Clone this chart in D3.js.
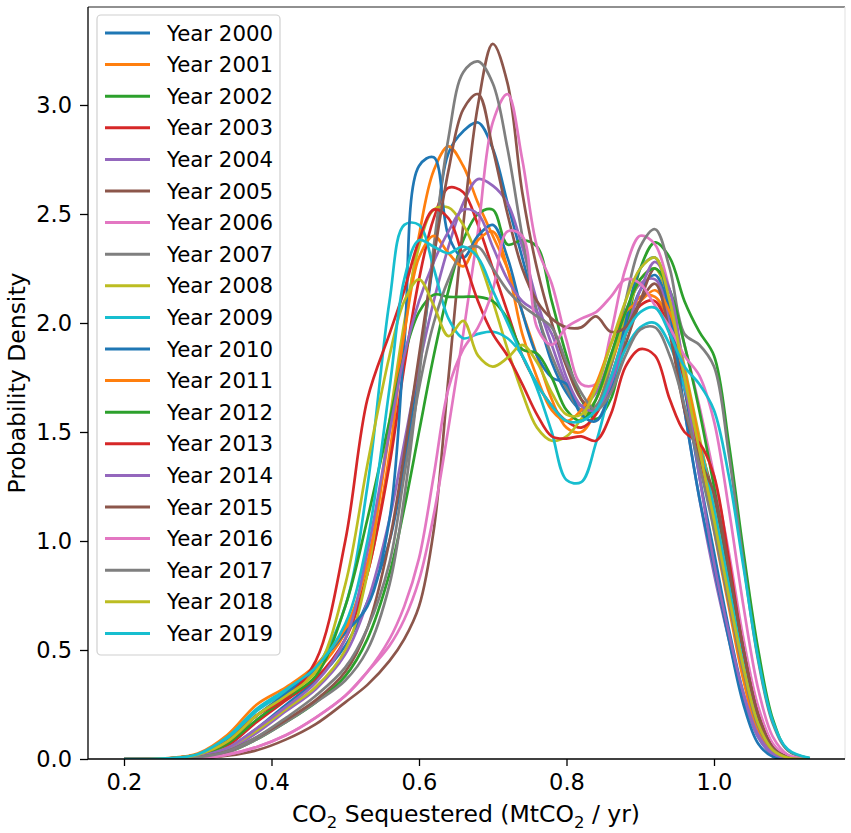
<!DOCTYPE html>
<html>
<head>
<meta charset="utf-8">
<script src="https://cdn.jsdelivr.net/npm/d3@7"></script>
<style>
  body { margin: 0; background: #fff; }
  svg { font-family: "DejaVu Sans", sans-serif; }
</style>
</head>
<body>
<script>
var xGrid = [0.20,0.26,0.30,0.34,0.38,0.42,0.46,0.50,0.53,0.56,0.58,0.60,0.62,0.64,0.66,0.68,0.70,0.72,0.74,0.76,
             0.78,0.80,0.82,0.84,0.86,0.88,0.90,0.92,0.94,0.96,0.98,1.00,1.02,1.04,1.06,1.08,1.10,1.13];

var years = [2000,2001,2002,2003,2004,2005,2006,2007,2008,2009,2010,2011,2012,2013,2014,2015,2016,2017,2018,2019];

var y2000 = [0,0.002,0.01,0.05,0.14,0.25,0.36,0.52,0.72,1.0,1.35,1.8,2.3,2.78,2.88,2.92,2.80,2.55,2.30,2.05,1.82,1.68,1.60,1.60,1.72,1.95,2.15,2.22,2.05,1.70,1.30,0.95,0.60,0.30,0.10,0.02,0.003,0];
var y2001 = [0,0.003,0.02,0.08,0.20,0.30,0.40,0.58,0.85,1.40,1.95,2.40,2.70,2.81,2.72,2.55,2.40,2.25,2.05,1.85,1.65,1.52,1.50,1.60,1.80,2.00,2.12,2.12,2.00,1.75,1.45,1.10,0.72,0.38,0.14,0.03,0.005,0];
var y2002 = [0,0,0.005,0.03,0.09,0.17,0.26,0.38,0.55,0.85,1.15,1.50,1.85,2.15,2.38,2.50,2.52,2.36,2.38,2.35,2.10,1.85,1.65,1.56,1.65,1.95,2.25,2.37,2.30,2.10,1.96,1.85,1.45,0.95,0.50,0.18,0.04,0.003];
var y2003 = [0,0.002,0.015,0.06,0.17,0.27,0.37,0.55,0.85,1.35,1.80,2.20,2.48,2.62,2.60,2.45,2.25,2.05,1.85,1.72,1.62,1.55,1.52,1.58,1.75,1.95,2.08,2.10,1.95,1.70,1.40,1.08,0.72,0.40,0.16,0.04,0.006,0];
var y2004 = [0,0.001,0.01,0.04,0.12,0.22,0.32,0.48,0.72,1.10,1.45,1.80,2.10,2.35,2.55,2.66,2.63,2.55,2.35,2.10,1.90,1.72,1.62,1.68,1.85,2.05,2.18,2.20,2.00,1.60,1.20,0.85,0.55,0.28,0.10,0.02,0.003,0];
var y2005 = [0,0,0.002,0.015,0.04,0.09,0.16,0.26,0.34,0.45,0.55,0.70,1.05,1.75,2.45,3.00,3.28,3.10,2.60,2.25,2.00,1.80,1.65,1.60,1.70,1.90,2.10,2.25,2.10,1.75,1.45,1.20,0.85,0.48,0.20,0.06,0.01,0];
var y2006 = [0,0,0.003,0.02,0.055,0.11,0.19,0.29,0.40,0.52,0.64,0.82,1.12,1.52,1.95,2.42,2.92,3.05,2.75,2.35,2.18,1.92,1.72,1.72,1.95,2.25,2.40,2.36,2.15,1.90,1.62,1.30,0.95,0.55,0.24,0.07,0.012,0];
var y2007 = [0,0.001,0.006,0.03,0.09,0.17,0.26,0.36,0.50,0.80,1.20,1.75,2.35,2.85,3.15,3.20,3.10,2.80,2.40,2.05,1.85,1.70,1.60,1.62,1.80,2.10,2.35,2.43,2.25,1.95,1.90,1.80,1.40,0.90,0.45,0.16,0.04,0.003];
var y2008 = [0,0.002,0.012,0.05,0.13,0.23,0.33,0.50,0.85,1.55,2.00,2.35,2.52,2.53,2.45,2.30,2.10,1.88,1.68,1.52,1.46,1.48,1.56,1.65,1.82,2.02,2.20,2.25,2.10,1.80,1.48,1.15,0.78,0.42,0.16,0.04,0.006,0];
var y2009 = [0,0.003,0.02,0.09,0.22,0.31,0.42,0.70,1.25,2.10,2.45,2.45,2.25,2.02,1.93,1.95,1.96,1.93,1.85,1.70,1.50,1.28,1.27,1.45,1.70,1.88,1.98,2.00,1.90,1.70,1.45,1.15,0.80,0.45,0.18,0.05,0.008,0];
var y2010 = [0,0.003,0.02,0.08,0.20,0.30,0.42,0.58,0.70,1.10,1.90,2.72,2.76,2.40,2.30,2.40,2.45,2.30,2.05,1.85,1.75,1.72,1.58,1.55,1.70,2.00,2.25,2.30,2.05,1.60,1.20,0.88,0.55,0.25,0.07,0.01,0.001,0];
var y2011 = [0,0.004,0.025,0.11,0.25,0.33,0.43,0.60,0.90,1.50,1.95,2.30,2.40,2.32,2.26,2.38,2.42,2.25,1.95,1.75,1.60,1.55,1.60,1.72,1.90,2.05,2.10,2.15,2.05,1.78,1.45,1.05,0.70,0.36,0.12,0.03,0.004,0];
var y2012 = [0,0.002,0.015,0.07,0.18,0.28,0.38,0.70,1.10,1.55,1.85,2.05,2.13,2.12,2.12,2.12,2.10,2.02,1.88,1.86,1.75,1.60,1.55,1.65,1.85,2.05,2.20,2.25,2.15,1.90,1.60,1.25,0.88,0.50,0.20,0.05,0.008,0];
var y2013 = [0,0.003,0.02,0.08,0.20,0.28,0.45,1.00,1.65,1.95,2.15,2.38,2.52,2.48,2.30,2.10,1.95,1.85,1.72,1.58,1.48,1.47,1.48,1.46,1.58,1.80,1.88,1.85,1.65,1.50,1.45,1.30,0.92,0.50,0.20,0.05,0.008,0];
var y2014 = [0,0.002,0.012,0.05,0.14,0.24,0.35,0.55,0.95,1.50,1.85,2.10,2.28,2.42,2.52,2.50,2.35,2.20,2.10,2.05,1.95,1.75,1.62,1.60,1.72,1.95,2.15,2.28,2.15,1.75,1.30,0.90,0.58,0.30,0.11,0.025,0.004,0];
var y2015 = [0,0.001,0.008,0.035,0.10,0.18,0.27,0.40,0.60,1.00,1.40,1.85,2.30,2.70,2.98,3.05,2.80,2.50,2.25,2.10,2.02,1.98,1.98,2.03,1.96,1.98,2.10,2.18,1.95,1.60,1.38,1.22,0.88,0.50,0.20,0.05,0.008,0];
var y2016 = [0,0,0.003,0.02,0.055,0.11,0.19,0.29,0.40,0.55,0.70,0.92,1.30,1.70,1.88,1.98,2.15,2.42,2.40,1.98,1.90,1.98,2.02,2.05,2.12,2.20,2.18,2.08,1.98,1.85,1.76,1.55,1.15,0.70,0.32,0.10,0.02,0];
var y2017 = [0,0.001,0.008,0.035,0.10,0.19,0.29,0.42,0.60,0.90,1.30,1.70,2.00,2.20,2.33,2.35,2.25,2.15,2.08,2.03,1.98,1.82,1.68,1.60,1.68,1.85,1.97,1.98,1.85,1.62,1.35,1.05,0.72,0.40,0.15,0.04,0.006,0];
var y2018 = [0,0.003,0.02,0.08,0.20,0.29,0.40,0.80,1.35,1.85,2.10,2.20,2.08,1.94,2.01,1.85,1.80,1.84,1.90,1.82,1.68,1.58,1.58,1.70,1.90,2.10,2.25,2.30,2.10,1.75,1.42,1.10,0.75,0.42,0.16,0.04,0.006,0];
var y2019 = [0,0.003,0.022,0.10,0.23,0.32,0.42,0.62,1.00,1.70,2.20,2.38,2.35,2.32,2.35,2.30,2.15,2.00,1.85,1.72,1.62,1.55,1.55,1.60,1.75,1.95,2.05,2.07,1.95,1.80,1.72,1.60,1.30,0.88,0.46,0.17,0.045,0.004];

var series = [y2000,y2001,y2002,y2003,y2004,y2005,y2006,y2007,y2008,y2009,
              y2010,y2011,y2012,y2013,y2014,y2015,y2016,y2017,y2018,y2019];

var xTicks = [0.2, 0.4, 0.6, 0.8, 1.0],
    yTicks = [0, 0.5, 1.0, 1.5, 2.0, 2.5, 3.0];

var colors = d3.schemeCategory10;

var w = 851, h = 833,
    padL = 88, padR = 845, padT = 7, padB = 759;

var svg = d3.select("body").append("svg")
  .attr("width", w)
  .attr("height", h);

var x = d3.scaleLinear().domain([0.15119, 1.17763]).range([padL, padR]);
var y = d3.scaleLinear().domain([0, 3.4495]).range([padB, padT]);

svg.append("clipPath").attr("id", "plot")
  .append("rect")
    .attr("x", padL).attr("y", padT)
    .attr("width", padR - padL).attr("height", padB - padT);

var line = d3.line()
  .x(function(d) { return x(d[0]); })
  .y(function(d) { return y(d[1]); })
  .curve(d3.curveCatmullRom.alpha(0.5));

svg.append("g")
  .attr("clip-path", "url(#plot)")
  .selectAll("path")
  .data(series)
  .enter().append("path")
    .attr("fill", "none")
    .attr("stroke", function(d, i) { return colors[i % 10]; })
    .attr("stroke-width", 2.7)
    .attr("stroke-linejoin", "round")
    .attr("d", function(d) { return line(d.map(function(v, i) { return [xGrid[i], v]; })); });

// spines
svg.append("line").attr("x1", padL).attr("x2", padR).attr("y1", padT).attr("y2", padT)
  .attr("stroke", "#222").attr("stroke-width", 1.2);
svg.append("line").attr("x1", padR).attr("x2", padR).attr("y1", padT).attr("y2", padB)
  .attr("stroke", "#e6e6e6").attr("stroke-width", 1.2);

// x axis
var xAxis = svg.append("g")
  .attr("transform", "translate(0," + padB + ")")
  .call(d3.axisBottom(x).tickValues(xTicks).tickFormat(d3.format(".1f")).tickSize(7).tickPadding(8));

// y axis
var yAxis = svg.append("g")
  .attr("transform", "translate(" + padL + ",0)")
  .call(d3.axisLeft(y).tickValues(yTicks).tickFormat(d3.format(".1f")).tickSize(8).tickPadding(8));

[xAxis, yAxis].forEach(function(g) {
  g.select(".domain").attr("stroke", "#000").attr("stroke-width", 1.3);
  g.selectAll(".tick line").attr("stroke", "#000").attr("stroke-width", 1.3);
  g.selectAll(".tick text").attr("fill", "#000")
    .style("font-size", "22.5px").style("font-family", "DejaVu Sans");
});
xAxis.select(".domain").attr("d", "M" + padL + ",0H" + padR);
yAxis.select(".domain").attr("d", "M0," + padT + "V" + padB);

// axis labels
var xl = svg.append("text")
  .attr("x", 466)
  .attr("y", 822)
  .attr("text-anchor", "middle")
  .style("font-size", "23.5px");
xl.append("tspan").text("CO");
xl.append("tspan").attr("dy", 5.5).style("font-size", "16.5px").text("2");
xl.append("tspan").attr("dy", -5.5).text(" Sequestered (MtCO");
xl.append("tspan").attr("dy", 5.5).style("font-size", "16.5px").text("2");
xl.append("tspan").attr("dy", -5.5).text(" / yr)");

svg.append("text")
  .attr("transform", "translate(25," + ((padT + padB) / 2) + ")rotate(-90)")
  .attr("text-anchor", "middle")
  .style("font-size", "23.5px")
  .text("Probability Density");

// legend
var legend = svg.append("g").attr("class", "legend");
legend.append("rect")
  .attr("x", 97).attr("y", 15)
  .attr("width", 183).attr("height", 640)
  .attr("rx", 4)
  .attr("fill", "#fff").attr("fill-opacity", 0.8)
  .attr("stroke", "#d0d0d0").attr("stroke-width", 1.2);

var item = legend.selectAll("g.item")
  .data(years)
  .enter().append("g")
    .attr("class", "item")
    .attr("transform", function(d, i) { return "translate(0," + (33 + i * 31.6) + ")"; });

item.append("line")
  .attr("x1", 105).attr("x2", 150)
  .attr("stroke", function(d, i) { return colors[i % 10]; })
  .attr("stroke-width", 3);

item.append("text")
  .attr("x", 167)
  .attr("dy", "0.36em")
  .style("font-size", "21.3px")
  .text(function(d) { return "Year " + d; });
</script>
</body>
</html>
